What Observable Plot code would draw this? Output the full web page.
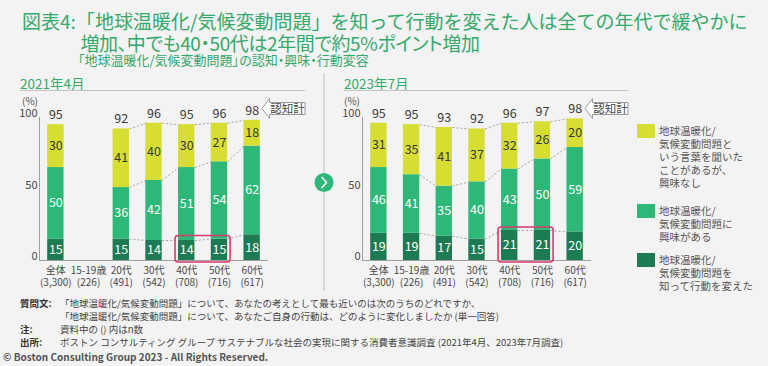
<!DOCTYPE html>
<html><head><meta charset="utf-8">
<script src="https://cdn.jsdelivr.net/npm/d3@7"></script>
<script src="https://cdn.jsdelivr.net/npm/@observablehq/plot@0.6"></script>
<style>
html,body{margin:0;padding:0;background:#f3f3f3;}
#root{position:relative;width:768px;height:366px;overflow:hidden;background:#f3f3f3;font-family:"Noto Sans CJK JP","Noto Sans",sans-serif;color:#404040;}
.abs{position:absolute;white-space:nowrap;}
.title{color:#33a96b;font-size:19px;line-height:19px;}
.palt{font-feature-settings:"palt";}
.tight{letter-spacing:-0.4px;}
.sub{color:#33a96b;font-size:13px;line-height:13px;}
.hdr{color:#33a96b;font-size:13.5px;line-height:14px;}
.hline{position:absolute;height:1px;background:#c4c4c4;}
.pct{font-size:10px;line-height:11px;color:#555;}
.leg{font-size:10.5px;line-height:13px;color:#555;}
.sw{position:absolute;width:18px;height:14px;}
.fn{font-size:9.5px;line-height:11px;color:#444;}
.fnl{font-weight:bold;color:#333;}
.copy{font-size:10px;line-height:11px;font-weight:bold;color:#555;}
</style>
</head><body>
<div id="root"></div>
<script>
const categories = ["全体","15-19歳","20代","30代","40代","50代","60代"];
const sampleSizes = ["(3,300)","(226)","(491)","(542)","(708)","(716)","(617)"];
const seriesKeys = ["acted","interested","heard"];
const seriesColors = ["#1c7b52","#2db878","#d6dd33"];

const acted2021      = [15, null, 15, 14, 14, 15, 18];
const interested2021 = [50, null, 36, 42, 51, 54, 62];
const heard2021      = [30, null, 41, 40, 30, 27, 18];
const total2021      = [95, null, 92, 96, 95, 96, 98];

const acted2023      = [19, 19, 17, 15, 21, 21, 20];
const interested2023 = [46, 41, 35, 40, 43, 50, 59];
const heard2023      = [31, 35, 41, 37, 32, 26, 20];
const total2023      = [95, 95, 93, 92, 96, 97, 98];

const yTicks = [0, 50, 100];
const highlightCats = ["40代","50代"];

const panels = [
  {title:"2021年4月", acted:acted2021, interested:interested2021, heard:heard2021, totals:total2021, linkStart:2, left:0},
  {title:"2023年7月", acted:acted2023, interested:interested2023, heard:heard2023, totals:total2023, linkStart:1, left:323}
];

const root = document.getElementById("root");
const FONT = '"Noto Sans CJK JP","Noto Sans",sans-serif';
const HALF = 0.25;

function addDiv(cls, html, x, y){
  const d = document.createElement("div");
  d.className = cls; d.innerHTML = html;
  d.style.left = x+"px"; d.style.top = y+"px";
  root.appendChild(d);
  return d;
}

function makePanel(p){
  const segs = [];
  const tops = {};
  categories.forEach((c,i)=>{
    if (p.acted[i]==null) return;
    let acc = 0;
    const lv = [];
    seriesKeys.forEach(k=>{
      const v = p[k][i];
      segs.push({i, key:k, v, y1:acc, y2:acc+v});
      acc += v; lv.push(acc);
    });
    tops[i] = lv;
  });
  const totals = categories.map((c,i)=>({i, t:p.totals[i], top: tops[i] ? tops[i][2] : null})).filter(d=>d.t!=null);
  const links = [];
  for (let i=p.linkStart;i<categories.length-1;i++){
    for (let l=0;l<3;l++) links.push({a:i, b:i+1, ya:tops[i][l], yb:tops[i+1][l]});
  }
  const hi = highlightCats.map(c=>categories.indexOf(c));
  const hiRow = [{x1: hi[0]-HALF, x2: hi[hi.length-1]+HALF, y2: Math.max(...hi.map(i=>p.acted[i]))}];
  const cats = categories.map((c,i)=>({i, label: c + "\n" + sampleSizes[i]}));

  const chart = Plot.plot({
    width:300, height:300,
    marginLeft:39, marginRight:32, marginTop:117, marginBottom:40,
    style:{background:"transparent", overflow:"visible", fontFamily:FONT},
    x:{domain:[-0.5, categories.length-0.5], axis:null},
    y:{domain:[0,100], axis:null},
    color:{domain:seriesKeys, range:seriesColors},
    marks:[
      Plot.rectY(segs, {x1:d=>d.i-HALF, x2:d=>d.i+HALF, y1:"y1", y2:"y2", fill:"key"}),
      Plot.link(links, {x1:d=>d.a+HALF, x2:d=>d.b-HALF, y1:"ya", y2:"yb", stroke:"#8c8c8c", strokeWidth:0.8, strokeDasharray:"2,2"}),
      Plot.ruleY([0], {stroke:"#a0a0a0"}),
      Plot.ruleX([-0.5], {y1:0, y2:100, stroke:"#a0a0a0"}),
      Plot.rect(hiRow, {x1:"x1", x2:"x2", y1:0, y2:"y2", fill:"none", stroke:"#d93a6e", strokeWidth:1.6, rx:3, insetLeft:-3, insetRight:-3, insetTop:-3, insetBottom:-2}),
      Plot.text(segs.filter(d=>d.key!=="heard"), {x:"i", y:d=>(d.y1+d.y2)/2, text:"v", fill:"white", fontSize:12.5}),
      Plot.text(segs.filter(d=>d.key==="heard"), {x:"i", y:d=>(d.y1+d.y2)/2, text:"v", fill:"#3a3a3a", fontSize:12.5}),
      Plot.text(totals, {x:"i", y:"top", text:"t", dy:-9.5, fill:"#3a3a3a", fontSize:12.5}),
      Plot.text(cats, {x:"i", y:0, text:"label", lineAnchor:"top", dy:5, fontSize:10, lineHeight:1.2, fill:"#4a4a4a"}),
      Plot.axisY({ticks:yTicks, tickSize:0, tickPadding:2, fontSize:11, dy:-4, fill:"#4a4a4a"})
    ]
  });
  chart.style.position = "absolute";
  chart.style.left = p.left + "px";
  chart.style.top = "0px";
  root.appendChild(chart);

  const hx = p.left===0 ? 20 : 344;
  addDiv("abs hdr", p.title, hx, 76);
  const hl = document.createElement("div");
  hl.className = "hline";
  hl.style.left = hx+"px"; hl.style.top="90px"; hl.style.width = (p.left===0 ? 285 : 284)+"px";
  root.appendChild(hl);
  addDiv("abs pct", "(%)", p.left===0 ? 22 : 344, 95);

  const cx = 259 + p.left;
  const svg = d3.create("svg").attr("width",50).attr("height",26)
    .style("position","absolute").style("left",cx+"px").style("top","96px").style("overflow","visible");
  svg.append("polygon").attr("points","3,12.5 10.5,2.5 10.5,6.5 46,6.5 46,18.5 10.5,18.5 10.5,22.5")
    .attr("fill","#fff").attr("stroke","#9a9a9a").attr("stroke-width",1);
  svg.append("text").attr("x",28.5).attr("y",12.5).attr("dy","0.35em").attr("text-anchor","middle")
    .attr("font-size",11.5).attr("font-family",FONT).attr("fill","#444").text("認知計");
  root.appendChild(svg.node());
}

// titles
addDiv("abs title", "図表4:", 22, 11.2);
addDiv("abs title", "「地球温暖化/気候変動問題」を知って行動を変えた人は全ての年代で緩やかに", 76, 11.2);
addDiv("abs title palt tight", "増加、中でも40・50代は2年間で約5%ポイント増加", 80.5, 33.2);
addDiv("abs sub palt", "「地球温暖化/気候変動問題」の認知・興味・行動変容", 78, 53);

panels.forEach(makePanel);

// divider and circle
const dv = d3.create("svg").attr("width",30).attr("height",230)
  .style("position","absolute").style("left","309px").style("top","70px");
dv.append("line").attr("x1",15).attr("x2",15).attr("y1",3).attr("y2",221).attr("stroke","#bdbdbd");
dv.append("circle").attr("cx",15).attr("cy",112.5).attr("r",9.5).attr("fill","#2db878");
dv.append("path").attr("d","M12.5,107 L17.5,112.5 L12.5,118").attr("fill","none").attr("stroke","#fff").attr("stroke-width",1.6);
root.appendChild(dv.node());

// legend
const legendItems = [
  {c:seriesColors[2], lines:["地球温暖化/","気候変動問題と","いう言葉を聞いた","ことがあるが、","興味なし"], y:124},
  {c:seriesColors[1], lines:["地球温暖化/","気候変動問題に","興味がある"], y:203.5},
  {c:seriesColors[0], lines:["地球温暖化/","気候変動問題を","知って行動を変えた"], y:253}
];
legendItems.forEach(it=>{
  const s = document.createElement("div");
  s.className="sw"; s.style.background=it.c; s.style.left="637px"; s.style.top=it.y+"px";
  root.appendChild(s);
  addDiv("abs leg", it.lines.join("<br>"), 659, it.y);
});

// footnotes
const fnRows = [
  ["質問文:", "「地球温暖化/気候変動問題」について、あなたの考えとして最も近いのは次のうちのどれですか、", 297.5],
  ["", "「地球温暖化/気候変動問題」について、あなたご自身の行動は、どのように変化しましたか (単一回答)", 310.5],
  ["注:", "資料中の () 内はn数", 323.5],
  ["出所:", "ボストン コンサルティング グループ サステナブルな社会の実現に関する消費者意識調査 (2021年4月、2023年7月調査)", 336.5]
];
fnRows.forEach(r=>{
  if (r[0]) addDiv("abs fn fnl", r[0], 20, r[2]);
  addDiv("abs fn", r[1], 60, r[2]);
});
addDiv("abs copy", "© Boston Consulting Group 2023 - All Rights Reserved.", 3, 350.5);
</script>
</body></html>
